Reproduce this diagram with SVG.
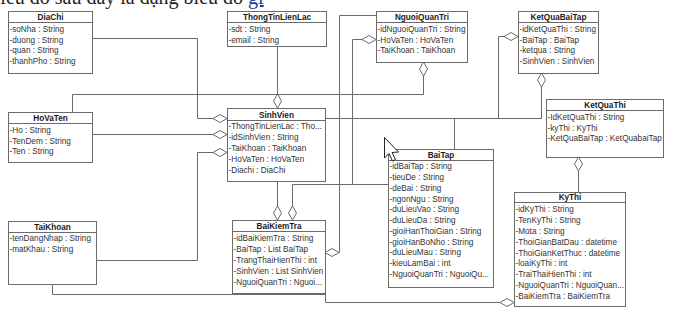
<svg xmlns="http://www.w3.org/2000/svg" width="690" height="314" viewBox="0 0 690 314">
<style>
.bx{fill:#fff;stroke:#6a6a6a;stroke-width:1}
.hl{stroke:#6a6a6a;stroke-width:1}
.t{font-family:"Liberation Sans",Arial,sans-serif;font-size:8.2px;font-weight:bold;fill:#1a1a1a;text-anchor:middle}
.a{font-family:"Liberation Sans",Arial,sans-serif;font-size:8.2px;fill:#333}
.c{fill:none;stroke:#6a6a6a;stroke-width:1}
.top{font-family:"Liberation Serif","Times New Roman",serif;font-size:20px;fill:#222}
</style>
<defs>
<marker id="agg" markerUnits="userSpaceOnUse" markerWidth="15" markerHeight="9" refX="14" refY="4" orient="auto" viewBox="-0.5 -0.5 15 9">
<path d="M0,4 L7,0 L14,4 L7,8 Z" fill="#fff" stroke="#6a6a6a" stroke-width="1"/>
</marker>
</defs>
<rect width="690" height="314" fill="#fff"/>
<text class="top" x="-13" y="4">Biểu đồ sau đây là dạng biểu đồ <tspan fill="#1a3a9a" text-decoration="underline">gì</tspan></text>

<g id="connectors">
<path class="c" d="M92,38.5 H197.5 V118.5 H227" marker-end="url(#agg)"/>
<path class="c" d="M92,134.5 H227" marker-end="url(#agg)"/>
<path class="c" d="M96,260.5 H197.5 V152.5 H227" marker-end="url(#agg)"/>
<path class="c" d="M277.5,46 V108" marker-end="url(#agg)"/>
<path class="c" d="M72.5,112 V94.5 H423.5 V62" marker-end="url(#agg)"/>
<path class="c" d="M52.5,284 V294.5 H325.5 V302.5 H514" marker-end="url(#agg)"/>
<path class="c" d="M277.5,181 V220" marker-end="url(#agg)"/>
<path class="c" d="M388,184.5 H292.5 V220" marker-end="url(#agg)"/>
<path class="c" d="M352.5,184.5 V39.5 H376" marker-end="url(#agg)"/>
<path class="c" d="M376,15.5 H339.5 V252.5 H325" marker-end="url(#agg)"/>
<path class="c" d="M325,118.5 H541.5 V73" marker-end="url(#agg)"/>
<path class="c" d="M454.5,149 V118.5 H498.5 V36.5 H518" marker-end="url(#agg)"/>
<path class="c" d="M578.5,192 V157" marker-end="url(#agg)"/>
</g>

<g id="DiaChi">
<rect class="bx" x="8.5" y="11.5" width="84" height="62"/>
<line class="hl" x1="8.5" y1="22.5" x2="92.5" y2="22.5"/>
<text class="t" x="50.5" y="20">DiaChi</text>
<text class="a" x="9.5" y="32">-soNha : String</text>
<text class="a" x="9.5" y="42.7">-duong : String</text>
<text class="a" x="9.5" y="53.4">-quan : String</text>
<text class="a" x="9.5" y="64.1">-thanhPho : String</text>
</g>

<g id="ThongTinLienLac">
<rect class="bx" x="227.5" y="11.5" width="99" height="35"/>
<line class="hl" x1="227.5" y1="22.5" x2="326.5" y2="22.5"/>
<text class="t" x="277" y="20">ThongTinLienLac</text>
<text class="a" x="228.5" y="32">-sdt : String</text>
<text class="a" x="228.5" y="42.7">-email : String</text>
</g>

<g id="NguoiQuanTri">
<rect class="bx" x="376.5" y="11.5" width="91" height="51"/>
<line class="hl" x1="376.5" y1="22.5" x2="467.5" y2="22.5"/>
<text class="t" x="422" y="20">NguoiQuanTri</text>
<text class="a" x="377.5" y="32">-idNguoiQuanTri : String</text>
<text class="a" x="377.5" y="42.7">-HoVaTen : HoVaTen</text>
<text class="a" x="377.5" y="53.4">-TaiKhoan : TaiKhoan</text>
</g>

<g id="KetQuaBaiTap">
<rect class="bx" x="518.5" y="11.5" width="80" height="62"/>
<line class="hl" x1="518.5" y1="22.5" x2="598.5" y2="22.5"/>
<text class="t" x="558.5" y="20">KetQuaBaiTap</text>
<text class="a" x="519.5" y="32">-idKetQuaThi : String</text>
<text class="a" x="519.5" y="42.7">-BaiTap : BaiTap</text>
<text class="a" x="519.5" y="53.4">-ketqua : String</text>
<text class="a" x="519.5" y="64.1">-SinhVien : SinhVien</text>
</g>

<g id="HoVaTen">
<rect class="bx" x="8.5" y="112.5" width="84" height="50"/>
<line class="hl" x1="8.5" y1="123.5" x2="92.5" y2="123.5"/>
<text class="t" x="50.5" y="121">HoVaTen</text>
<text class="a" x="9.5" y="133">-Ho : String</text>
<text class="a" x="9.5" y="143.7">-TenDem : String</text>
<text class="a" x="9.5" y="154.4">-Ten : String</text>
</g>

<g id="SinhVien">
<rect class="bx" x="227.5" y="108.5" width="98" height="73"/>
<line class="hl" x1="227.5" y1="120.5" x2="325.5" y2="120.5"/>
<text class="t" x="276.5" y="118">SinhVien</text>
<text class="a" x="228.5" y="129">-ThongTinLienLac : Tho...</text>
<text class="a" x="228.5" y="140">-idSinhVien : String</text>
<text class="a" x="228.5" y="151">-TaiKhoan : TaiKhoan</text>
<text class="a" x="228.5" y="162">-HoVaTen : HoVaTen</text>
<text class="a" x="228.5" y="173">-Diachi : DiaChi</text>
</g>

<g id="TaiKhoan">
<rect class="bx" x="8.5" y="221.5" width="88" height="63"/>
<line class="hl" x1="8.5" y1="232.5" x2="96.5" y2="232.5"/>
<text class="t" x="52.5" y="230">TaiKhoan</text>
<text class="a" x="9.5" y="241">-tenDangNhap : String</text>
<text class="a" x="9.5" y="252">-matKhau : String</text>
</g>

<g id="BaiKiemTra">
<rect class="bx" x="232.5" y="220.5" width="93" height="73"/>
<line class="hl" x1="232.5" y1="231.5" x2="325.5" y2="231.5"/>
<text class="t" x="279" y="229">BaiKiemTra</text>
<text class="a" x="233.5" y="241">-idBaiKiemTra : String</text>
<text class="a" x="233.5" y="252">-BaiTap : List BaiTap</text>
<text class="a" x="233.5" y="263">-TrangThaiHienThi : int</text>
<text class="a" x="233.5" y="274">-SinhVien : List SinhVien</text>
<text class="a" x="233.5" y="284.5">-NguoiQuanTri : Nguoi...</text>
</g>

<g id="BaiTap">
<rect class="bx" x="388.5" y="149.5" width="105" height="138"/>
<line class="hl" x1="388.5" y1="160.5" x2="493.5" y2="160.5"/>
<text class="t" x="441" y="158">BaiTap</text>
<text class="a" x="389.5" y="169">-idBaiTap : String</text>
<text class="a" x="389.5" y="180">-tieuDe : String</text>
<text class="a" x="389.5" y="191">-deBai : String</text>
<text class="a" x="389.5" y="201.5">-ngonNgu : String</text>
<text class="a" x="389.5" y="212">-duLieuVao : String</text>
<text class="a" x="389.5" y="223">-duLieuDa : String</text>
<text class="a" x="389.5" y="234">-gioiHanThoiGian : String</text>
<text class="a" x="389.5" y="244.5">-gioiHanBoNho : String</text>
<text class="a" x="389.5" y="255">-duLieuMau : String</text>
<text class="a" x="389.5" y="266">-kieuLamBai : int</text>
<text class="a" x="389.5" y="276.5">-NguoiQuanTri : NguoiQu...</text>
</g>

<g id="KetQuaThi">
<rect class="bx" x="546.5" y="99.5" width="117" height="58"/>
<line class="hl" x1="546.5" y1="110.5" x2="663.5" y2="110.5"/>
<text class="t" x="605" y="108">KetQuaThi</text>
<text class="a" x="547.5" y="120">-IdKetQuaThi : String</text>
<text class="a" x="547.5" y="130.5">-kyThi : KyThi</text>
<text class="a" x="547.5" y="141">-KetQuaBaiTap : KetQuabaiTap</text>
</g>

<g id="KyThi">
<rect class="bx" x="514.5" y="192.5" width="111" height="114"/>
<line class="hl" x1="514.5" y1="202.5" x2="625.5" y2="202.5"/>
<text class="t" x="570" y="200">KyThi</text>
<text class="a" x="515.5" y="212">-idKyThi : String</text>
<text class="a" x="515.5" y="223">-TenKyThi : String</text>
<text class="a" x="515.5" y="234">-Mota : String</text>
<text class="a" x="515.5" y="245">-ThoiGianBatDau : datetime</text>
<text class="a" x="515.5" y="255.5">-ThoiGianKetThuc : datetime</text>
<text class="a" x="515.5" y="266">-loaiKyThi : int</text>
<text class="a" x="515.5" y="277">-TraiThaiHienThi : int</text>
<text class="a" x="515.5" y="288">-NguoiQuanTri : NguoiQuan...</text>
<text class="a" x="515.5" y="299">-BaiKiemTra : BaiKiemTra</text>
</g>

<polygon points="384.5,137.5 384.5,158 389,153.5 392.5,161 395.5,159.5 392,152.5 398.5,152" fill="#fff" stroke="#222" stroke-width="1"/>
</svg>
